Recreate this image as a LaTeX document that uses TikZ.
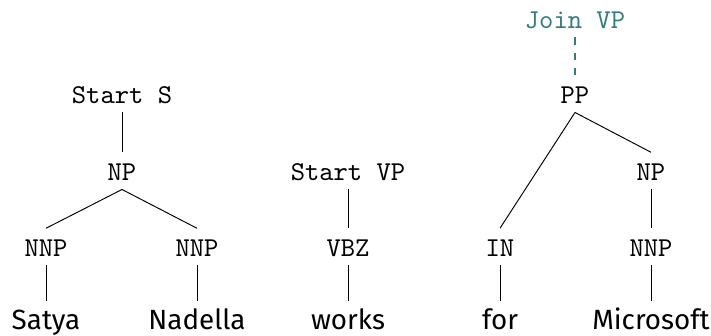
\documentclass[tikz,border=0pt]{standalone}
\usepackage{fontspec}
\setmainfont{Fira Sans}
\definecolor{jointeal}{HTML}{2F7F7F}
\tikzset{
	tag/.style={anchor=base, font=\ttfamily, inner ysep=0pt, text height=10pt, text depth=3.3pt},
	word/.style={tag, font=\fontsize{10.2}{12}\selectfont},
	jointag/.style={tag, text=jointeal},
}
\begin{document}
\begin{tikzpicture}[x=0.367pt,y=-0.367pt,line width=0.35pt]
	\useasboundingbox (0,0) rectangle (711,335);
	% Satya Nadella
	\node[tag] (startS) at (122,103) {Start S};
	\node[tag] (np1) at (122,180) {NP};
	\node[tag] (nnp1) at (46,256) {NNP};
	\node[tag] (nnp2) at (197,256) {NNP};
	\node[word] (satya) at (46,329) {Satya};
	\node[word] (nadella) at (197,329) {Nadella};
	\draw (startS.south) -- (np1.north);
	\draw (np1.south) -- (nnp1.north);
	\draw (np1.south) -- (nnp2.north);
	\draw (nnp1.south) -- (satya.north);
	\draw (nnp2.south) -- (nadella.north);
	% works
	\node[tag] (startVP) at (348,180) {Start VP};
	\node[tag] (vbz) at (348,256) {VBZ};
	\node[word] (works) at (348,329) {works};
	\draw (startVP.south) -- (vbz.north);
	\draw (vbz.south) -- (works.north);
	% for Microsoft
	\node[jointag] (joinVP) at (575,28) {Join VP};
	\node[tag] (pp) at (575,103) {PP};
	\node[tag] (in) at (500,256) {IN};
	\node[tag] (np2) at (651,180) {NP};
	\node[tag] (nnp3) at (651,256) {NNP};
	\node[word] (for) at (500,329) {for};
	\node[word] (microsoft) at (651,329) {Microsoft};
	\draw[jointeal, line width=0.45pt, dash pattern=on 2.8pt off 2.8pt] (joinVP.south) -- (pp.north);
	\draw (pp.south) -- (in.north);
	\draw (pp.south) -- (np2.north);
	\draw (np2.south) -- (nnp3.north);
	\draw (nnp3.south) -- (microsoft.north);
	\draw (in.south) -- (for.north);
\end{tikzpicture}
\end{document}
